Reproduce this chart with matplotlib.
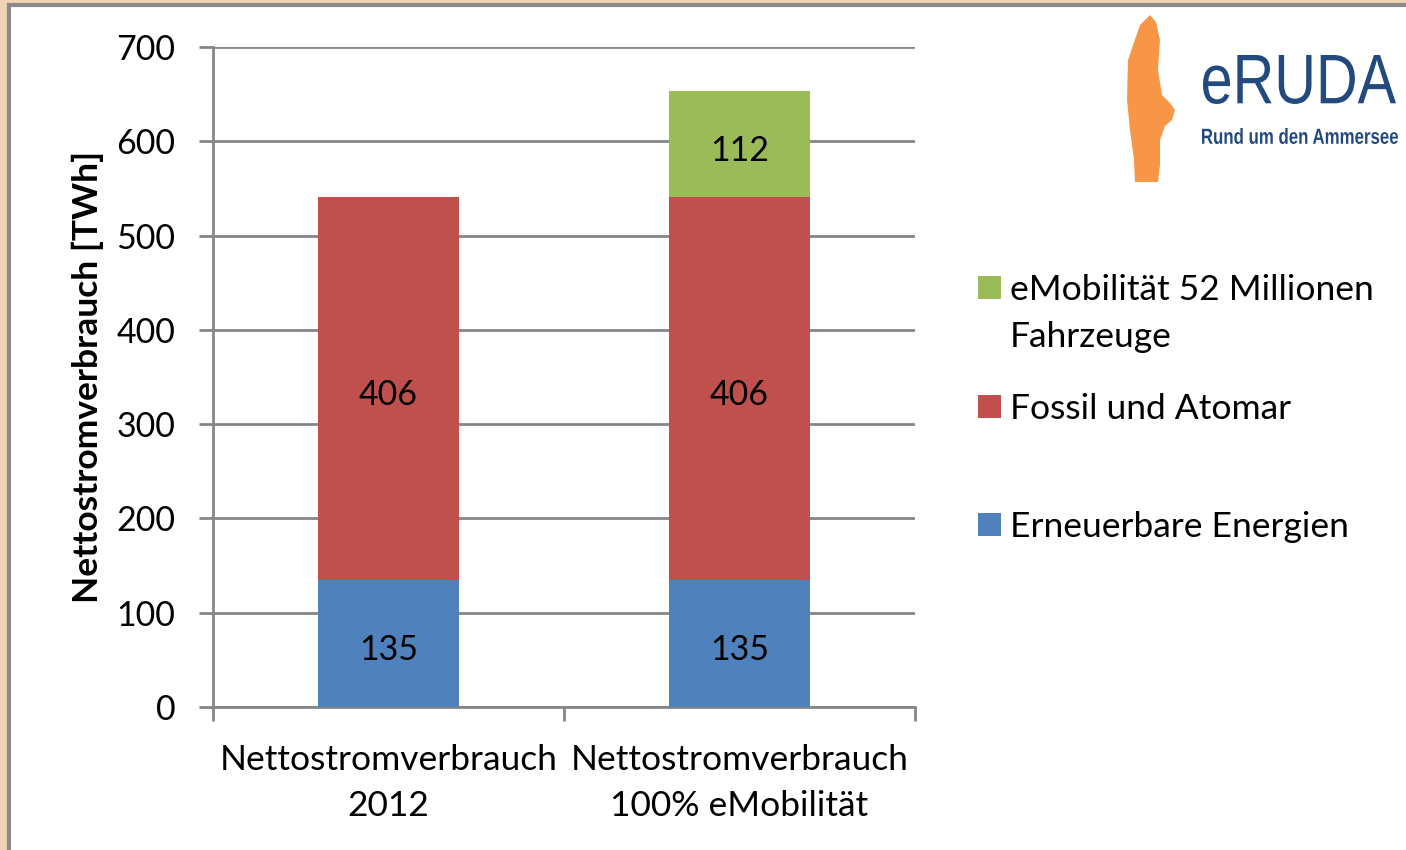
import matplotlib.pyplot as plt
from matplotlib.patches import Rectangle, Polygon, PathPatch
from matplotlib.textpath import TextPath
from matplotlib.font_manager import FontProperties
from matplotlib.transforms import Affine2D, IdentityTransform

# Data
categories = ['Nettostromverbrauch\n2012', 'Nettostromverbrauch\n100% eMobilität']
erneuerbar = [135, 135]
fossil = [406, 406]
emobil = [0, 112]
series_labels = ['Erneuerbare Energien', 'Fossil und Atomar', 'eMobilität 52 Millionen\nFahrzeuge']
y_ticks = [0, 100, 200, 300, 400, 500, 600, 700]

colors = ['#4f81bd', '#c0504d', '#9bbb59']
grid_col = '#868686'
logo_blue = '#234a7e'

W, H = 1406, 850
plt.rcParams['font.family'] = ['Lato', 'DejaVu Sans']

fig = plt.figure(figsize=(W / 100, H / 100), dpi=100)
fig.patch.set_facecolor('#efd3b3')


def px(x, y):
    # pixel coords (top-left origin) -> figure fraction
    return x / W, 1 - y / H


# White panel with gray frame
x0, y0 = px(9, 5)
panel = Rectangle((x0, -0.05), 1.1, y0 + 0.05, transform=fig.transFigure,
                  facecolor='white', edgecolor='#8a8a8a', linewidth=3, zorder=-5)
fig.add_artist(panel)

ax = fig.add_axes([213 / W, 1 - 707 / H, (915 - 213) / W, (707 - 47) / H])
ax.set_facecolor('none')

xpos = range(len(categories))
bw = 0.4
bottom2 = [a + b for a, b in zip(erneuerbar, fossil)]
ax.bar(xpos, erneuerbar, bw, color=colors[0], zorder=3)
ax.bar(xpos, fossil, bw, bottom=erneuerbar, color=colors[1], zorder=3)
ax.bar(xpos, emobil, bw, bottom=bottom2, color=colors[2], zorder=3)


def seg_label(x, y, v):
    ax.annotate(str(v), (x, y), xytext=(0, -5), textcoords='offset points',
                ha='center', va='center', fontsize=24.5, zorder=4)


# Data labels
for i in xpos:
    seg_label(i, erneuerbar[i] / 2, erneuerbar[i])
    seg_label(i, erneuerbar[i] + fossil[i] / 2, fossil[i])
    if emobil[i]:
        seg_label(i, bottom2[i] + emobil[i] / 2, emobil[i])

ax.set_xlim(-0.5, len(categories) - 0.5)
ax.set_ylim(0, 700)
ax.set_yticks(y_ticks)
ax.tick_params(axis='y', labelsize=24.5, length=10, width=2, color=grid_col, pad=17)
ax.yaxis.grid(True, color=grid_col, linewidth=2, zorder=1)

# Category labels between tick marks at category boundaries
ax.set_xticks([-0.5, 0.5, 1.5])
ax.set_xticklabels([])
ax.set_xticks(list(xpos), minor=True)
ax.set_xticklabels(categories, minor=True, fontsize=25.5, linespacing=1.5)
ax.tick_params(axis='x', which='major', length=10, width=2, color=grid_col)
ax.tick_params(axis='x', which='minor', length=0, pad=27)

for s in ['top', 'right']:
    ax.spines[s].set_visible(False)
for s in ['left', 'bottom']:
    ax.spines[s].set_color(grid_col)
    ax.spines[s].set_linewidth(2)

ax.set_ylabel('Nettostromverbrauch [TWh]', fontsize=25.5, fontweight='bold', labelpad=9)

# Legend (drawn manually to match spacing)
leg_rows = [(288, 2), (407, 1), (525, 0)]
for ypix, idx in leg_rows:
    sx, sy = px(978, ypix + 11)
    fig.add_artist(Rectangle((sx, sy), 23 / W, 23 / H, transform=fig.transFigure,
                             facecolor=colors[idx], edgecolor='none'))
    tx, ty = px(1010, ypix - 14)
    fig.text(tx, ty, series_labels[idx], fontsize=25.5, va='top', ha='left', linespacing=1.57)

# Logo: orange lake shape
shape = [(1150, 15), (1156, 22), (1160, 40), (1158, 70), (1162, 95), (1170, 103), (1175, 110),
         (1172, 120), (1165, 126), (1160, 140), (1160, 165), (1158, 182), (1135, 182),
         (1134, 160), (1130, 130), (1127, 100), (1128, 60), (1140, 25)]
fig.add_artist(Polygon([px(x, y) for x, y in shape], closed=True, transform=fig.transFigure,
                       facecolor='#f79646', edgecolor='none'))


def logo_text(s, left, right, top, bottom, weight='normal'):
    # fit text path into a pixel box (condensed lettering)
    tp = TextPath((0, 0), s, size=1, prop=FontProperties(family='Liberation Sans', weight=weight))
    ext = tp.get_extents()
    sxs = (right - left) / ext.width
    sys_ = (bottom - top) / ext.height
    tr = Affine2D().translate(-ext.x0, -ext.y0).scale(sxs, sys_).translate(left, H - bottom)
    fig.add_artist(PathPatch(tr.transform_path(tp), transform=IdentityTransform(),
                             facecolor=logo_blue, edgecolor='none'))


logo_text('eRUDA', 1203, 1396, 55, 104)
logo_text('Rund um den Ammersee', 1202, 1398, 128, 144, weight='bold')

fig.savefig('out.png', dpi=100, facecolor=fig.get_facecolor())
